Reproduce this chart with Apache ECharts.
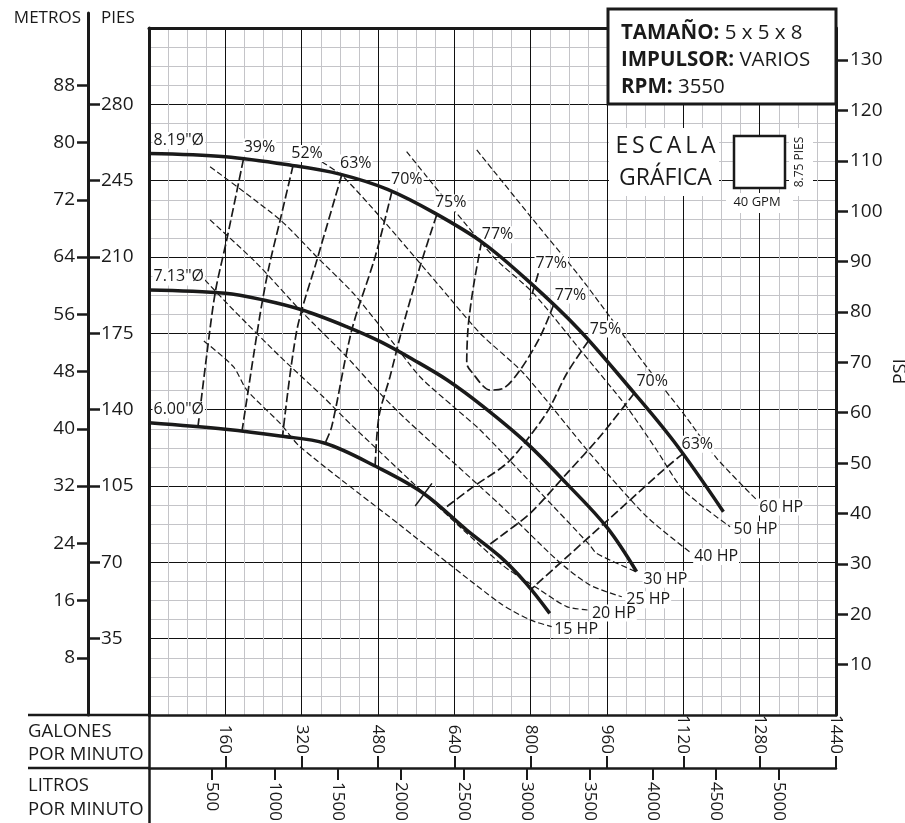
<!DOCTYPE html>
<html><head><meta charset="utf-8">
<script src="https://cdn.jsdelivr.net/npm/echarts@6/dist/echarts.min.js"></script>
<style>html,body{margin:0;padding:0;background:#fff}#c{width:905px;height:823px}</style>
</head><body><div id="c"></div>
<script>
// ================= DATA (x = GPM, y = feet of head) =================
const gpmTicks = [160, 320, 480, 640, 800, 960, 1120, 1280, 1440];
const lpmTicks = [500, 1000, 1500, 2000, 2500, 3000, 3500, 4000, 4500, 5000];
const psiTicks = [10, 20, 30, 40, 50, 60, 70, 80, 90, 100, 110, 120, 130];
const ftTicks = [35, 70, 105, 140, 175, 210, 245, 280];
const mTicks = [8, 16, 24, 32, 40, 48, 56, 64, 72, 80, 88];

const impellerNames = ['8.19"Ø', '7.13"Ø', '6.00"Ø'];
const imp819 = [[0,257.5],[160,256],[300,252],[400,248],[500,241],[600,230],[700,216.5],[800,198],[900,177],[1000,152],[1100,125.5],[1204,93.2]];
const imp713 = [[0,194.9],[160,193.4],[240,190.3],[320,185.8],[415,178],[485,171.2],[555,162.8],[625,153.6],[700,141.5],[790,125],[875,106.2],[960,86],[1022,65.7]];
const imp600 = [[0,134],[160,131],[275,127.9],[369,124.6],[477,113.8],[575,101.7],[666,84.8],[736,72.6],[790,60.5],[840,46.6]];

const effNames = ['39%', '52%', '63%', '70%', '75%', '77%', '77%', '75%', '70%', '63%'];
const eff39 = [[198,254.9],[163,218],[139,194],[121,165],[103,132.8]];
const eff52 = [[302,252],[275,227],[251,205],[232,182.6],[195,130.2]];
const eff63 = [[404,247.6],[352,208.6],[310,176.5],[280,128]];
const eff70 = [[509,239.9],[474,210.1],[425,176.5],[383,132.2],[369,124.6]];
const eff75 = [[603,229.3],[568,205.6],[530,176.5],[505,155],[482,137],[474,114.2]];
const eff77loop = [[697,217],[680,196.4],[669,178],[666,161.3],[676,157.4],[715,149],[743,149.8],[778,158.2],[820,173.5],[848,188]];
const eff77short = [[816,202.5],[799,190.3]];
const eff75r = [[921,171.5],[876,156.7],[837,139.8],[792,126.1],[750,115.4],[680,104.7],[624,95.5],[616,94.1]];
const eff70r = [[1017,147.5],[945,127.6],[876,110.8],[799,92.5],[736,81.8],[709,77.4]];
const eff63r = [[1120,120],[1078,112.3],[1001,97.1],[800,57.5]];
const crossMark = [[558,95.8],[593,106.2]];

const hpNames = ['60 HP', '50 HP', '40 HP', '30 HP', '25 HP', '20 HP', '15 HP'];
const hp60 = [[687,259.1],[805.5,227],[903,201],[966,182.6],[1043,159.7],[1120,138.3],[1190,117.7],[1274,98.6]];
const hp50 = [[540,258.3],[722,210.1],[805.5,193.4],[910,165.8],[1001,141.4],[1064,121.5],[1120,103.2],[1218,86.3]];
const hp40 = [[363,253.6],[407,246.8],[484,228.5],[610,196.4],[694,175],[785,156.7],[924,120],[1043,91],[1137.5,74.1]];
const hp30 = [[128,251.4],[275,227],[351.5,210.1],[428,193.4],[491,176.5],[568,155.1],[638,141.4],[694,130.7],[820,102],[924,77.9],[938,74.1],[1023,65.5]];
const hp25 = [[128,227],[226,207.1],[316.5,185.7],[414,164.3],[484,147.5],[540,135.3],[736,96.3],[855,71.1],[924,59.6],[991,54.2]];
const hp20 = [[117,199.5],[177,185.7],[275,164.3],[365,145.9],[428,132.2],[736,69.6],[820,57.3],[875.5,49.7],[921,48.1]];
const hp15 = [[115,171.5],[177,159.7],[205,149],[275,133.7],[316.5,123],[526,87.1],[736,51.2],[799,43.6],[844,40.5]];

// unit conversions
const FT_MAX = 315, FT_PER_PSI = 2.31, FT_PER_M = 3.28084, L_PER_GAL = 3.785411784, GPM_MAX = 1440;

// ================= STYLE / LAYOUT =================
const FONT = "'Open Sans', 'DejaVu Sans', sans-serif";
const INK = '#1a1a1a';
const PLOT = { left: 149, top: 28, size: 687 };
const pxPerFt = PLOT.size / FT_MAX;
const AX_TOP = 13;
const ftMaxLeft = (PLOT.top + PLOT.size - AX_TOP) / pxPerFt;

const effOffsets = [[16,-12],[14,-12],[14,-12],[15,-12],[14,-12],[16,-7],[13,-10],[17,-12],[18,-12],[14,-9]];
const loopEndOffset = [17,-10];
const hpLabelDist = [1, 2, 1, 5, 3, 2, 1];
const hpLabelDy = [7, 3, 3, 7, 3, 3, 3];

const labelBase = { show: true, fontFamily: FONT, fontSize: 16, color: INK, backgroundColor: '#fff', padding: [1, 1, 0, 1] };
const plain = (v) => String(Math.round(v));

function baseLine(name, data, lineStyle, extra) {
  return Object.assign({
    type: 'line', name: name, data: data, xAxisIndex: 0, yAxisIndex: 0,
    showSymbol: true, symbol: 'circle', symbolSize: 1,
    itemStyle: { color: 'rgba(0,0,0,0)' },
    silent: true, animation: false, smooth: 0.25,
    emphasis: { disabled: true },
    lineStyle: lineStyle, z: 3
  }, extra || {});
}
function withLabel(p, text, opts) {
  return { value: p, label: Object.assign({}, labelBase, { formatter: text }, opts) };
}

const series = [];
const hpLines = [hp60, hp50, hp40, hp30, hp25, hp20, hp15];
hpLines.forEach((arr, k) => {
  const d = arr.map((p, i) => i === arr.length - 1
    ? withLabel(p, hpNames[k], { position: 'right', distance: hpLabelDist[k], offset: [0, hpLabelDy[k]] })
    : p);
  series.push(baseLine(hpNames[k], d, { color: INK, width: 1.2, type: [6, 3] }));
});
const effLines = [eff39, eff52, eff63, eff70, eff75, eff77loop, eff77short, eff75r, eff70r, eff63r];
effLines.forEach((arr, k) => {
  const d = arr.map((p, i) => {
    if (i === 0) return withLabel(p, effNames[k], { position: 'inside', offset: effOffsets[k] });
    if (arr === eff77loop && i === arr.length - 1) return withLabel(p, effNames[k], { position: 'inside', offset: loopEndOffset });
    return p;
  });
  series.push(baseLine('eff' + k, d, { color: INK, width: 1.7, type: [9, 3.5] }, { smooth: 0.3 }));
});
series.push(baseLine('mark', crossMark, { color: INK, width: 1.5 }, { smooth: false }));
[imp819, imp713, imp600].forEach((arr, k) => {
  const d = arr.map((p, i) => i === 0
    ? withLabel(p, impellerNames[k], { position: 'right', distance: 3, offset: [0, -13] })
    : p);
  series.push(baseLine(impellerNames[k], d, { color: INK, width: 3.5 }, { smooth: 0.35, z: 4 }));
});

function txt(text, x, y, size, align, extra) {
  return Object.assign({
    type: 'text', x: x, y: y, z: 20,
    style: { text: text, fontFamily: FONT, fontSize: size, fill: INK, align: align || 'left', verticalAlign: 'middle' }
  }, extra || {});
}
const rich = { b: { fontFamily: FONT, fontSize: 20.5, fontWeight: 'bold', fill: INK } };
function boxLine(text, y) {
  return { type: 'text', x: 621, y: y, z: 21,
    style: { text: text, rich: rich, fontFamily: FONT, fontSize: 20.5, fill: INK, align: 'left', verticalAlign: 'middle' } };
}

const axisLineStyle = (w) => ({ show: true, onZero: false, lineStyle: { color: INK, width: w } });
const noTick = { show: false };
const noLabel = { show: false };

const option = {
  animation: false,
  backgroundColor: '#fff',
  textStyle: { fontFamily: FONT },
  grid: [
    { left: PLOT.left, top: PLOT.top, width: PLOT.size, height: PLOT.size, outerBoundsMode: 'none', containLabel: false },
    { left: 88, top: AX_TOP, width: 1, height: PLOT.top + PLOT.size - AX_TOP, outerBoundsMode: 'none', containLabel: false },
    { left: PLOT.left, top: PLOT.top + PLOT.size, width: PLOT.size, height: 108, outerBoundsMode: 'none', containLabel: false }
  ],
  xAxis: [
    { gridIndex: 0, type: 'value', min: 0, max: GPM_MAX, interval: 160, position: 'bottom',
      axisLine: axisLineStyle(2.5), axisTick: noTick, axisLabel: noLabel,
      splitLine: { show: true, lineStyle: { color: '#111', width: 1 } },
      minorTick: { show: false, splitNumber: 4 },
      minorSplitLine: { show: true, lineStyle: { color: '#c4c4c8', width: 1 } } },
    { gridIndex: 0, type: 'value', min: 0, max: GPM_MAX, position: 'top',
      axisLine: axisLineStyle(3), axisTick: noTick, axisLabel: noLabel, splitLine: { show: false } },
    { gridIndex: 1, type: 'value', min: 0, max: 1, show: false },
    { gridIndex: 2, type: 'value', min: 0, max: GPM_MAX, position: 'top', offset: -53,
      axisLine: axisLineStyle(2.5),
      axisTick: { show: true, inside: false, length: 12, lineStyle: { color: INK, width: 2 }, customValues: gpmTicks },
      axisLabel: { show: true, rotate: 90, margin: 14, fontSize: 17, color: INK, fontFamily: FONT, customValues: gpmTicks, formatter: plain },
      splitLine: { show: false } },
    { gridIndex: 2, type: 'value', min: 0, max: GPM_MAX * L_PER_GAL, position: 'top', offset: -53,
      axisLine: { show: false, onZero: false },
      axisTick: { show: true, inside: true, length: 12, lineStyle: { color: INK, width: 2 }, customValues: lpmTicks },
      axisLabel: { show: true, inside: true, rotate: 90, margin: 14, fontSize: 17, color: INK, fontFamily: FONT, customValues: lpmTicks, formatter: plain },
      splitLine: { show: false } }
  ],
  yAxis: [
    { gridIndex: 0, type: 'value', min: 0, max: FT_MAX, interval: 35, position: 'left',
      axisLine: axisLineStyle(3), axisTick: noTick, axisLabel: noLabel,
      splitLine: { show: true, lineStyle: { color: '#111', width: 1 } },
      minorTick: { show: false, splitNumber: 4 },
      minorSplitLine: { show: true, lineStyle: { color: '#c4c4c8', width: 1 } } },
    { gridIndex: 0, type: 'value', min: 0, max: FT_MAX / FT_PER_PSI, position: 'right',
      name: 'PSI', nameLocation: 'middle', nameGap: 56, nameRotate: 90, nameMoveOverlap: false,
      nameTextStyle: { fontSize: 18, color: INK, fontFamily: FONT },
      axisLine: axisLineStyle(3),
      axisTick: { show: true, length: 12, lineStyle: { color: INK, width: 2.5 }, customValues: psiTicks },
      axisLabel: { show: true, margin: 14, fontSize: 19, color: INK, fontFamily: FONT, customValues: psiTicks, formatter: plain },
      splitLine: { show: false } },
    { gridIndex: 1, type: 'value', min: 0, max: ftMaxLeft, position: 'left',
      axisLine: axisLineStyle(3),
      axisTick: { show: true, inside: true, length: 12, lineStyle: { color: INK, width: 2.5 }, customValues: ftTicks },
      axisLabel: { show: true, inside: true, margin: 13, fontSize: 19, color: INK, fontFamily: FONT, customValues: ftTicks, formatter: plain },
      splitLine: { show: false } },
    { gridIndex: 1, type: 'value', min: 0, max: ftMaxLeft / FT_PER_M, position: 'left',
      axisLine: { show: false, onZero: false },
      axisTick: { show: true, length: 11, lineStyle: { color: INK, width: 2.5 }, customValues: mTicks },
      axisLabel: { show: true, margin: 13, fontSize: 19, color: INK, fontFamily: FONT, customValues: mTicks, formatter: plain },
      splitLine: { show: false } },
    { gridIndex: 2, type: 'value', min: 0, max: 1, position: 'left',
      axisLine: axisLineStyle(2.5), axisTick: noTick, axisLabel: noLabel, splitLine: { show: false } }
  ],
  series: series,
  graphic: [
    { type: 'line', z: 20, shape: { x1: 28, y1: 715, x2: 149, y2: 715 }, style: { stroke: INK, lineWidth: 2.5 } },
    { type: 'line', z: 20, shape: { x1: 28, y1: 768, x2: 149, y2: 768 }, style: { stroke: INK, lineWidth: 2.5 } },
    txt('GALONES', 28, 732, 18.5),
    txt('POR MINUTO', 28, 755, 18.5),
    txt('LITROS', 28, 786, 18.5),
    txt('POR MINUTO', 28, 810, 18.5),
    txt('METROS', 81, 18, 17, 'right'),
    txt('PIES', 101, 18, 17, 'left'),
    { type: 'rect', z: 20, shape: { x: 608, y: 9, width: 228, height: 95 }, style: { fill: '#fff', stroke: INK, lineWidth: 3 } },
    boxLine('{b|TAMAÑO:} 5 x 5 x 8', 33),
    boxLine('{b|IMPULSOR:} VARIOS', 60),
    boxLine('{b|RPM:} 3550', 87),
    { type: 'rect', z: 20, shape: { x: 609, y: 128, width: 110, height: 68 }, style: { fill: '#fff' } },
    { type: 'rect', z: 20, shape: { x: 789, y: 128, width: 24, height: 68 }, style: { fill: '#fff' } },
    { type: 'rect', z: 20, shape: { x: 726, y: 193, width: 67, height: 20 }, style: { fill: '#fff' } },
    { type: 'rect', z: 21, shape: { x: 734, y: 136, width: 51, height: 52 }, style: { fill: '#fff', stroke: INK, lineWidth: 2.5 } },
    txt('E\u2009S\u2009C\u2009A\u2009L\u2009A', 665.5, 146, 23, 'center'),
    txt('GRÁFICA', 665.5, 178, 23, 'center'),
    txt('8.75 PIES', 799.5, 162, 12, 'center', { rotation: Math.PI / 2 }),
    txt('40 GPM', 757, 202, 13, 'center')
  ]
};

const chart = echarts.init(document.getElementById('c'), null, { renderer: 'canvas' });
chart.setOption(option);
</script>
</body></html>
